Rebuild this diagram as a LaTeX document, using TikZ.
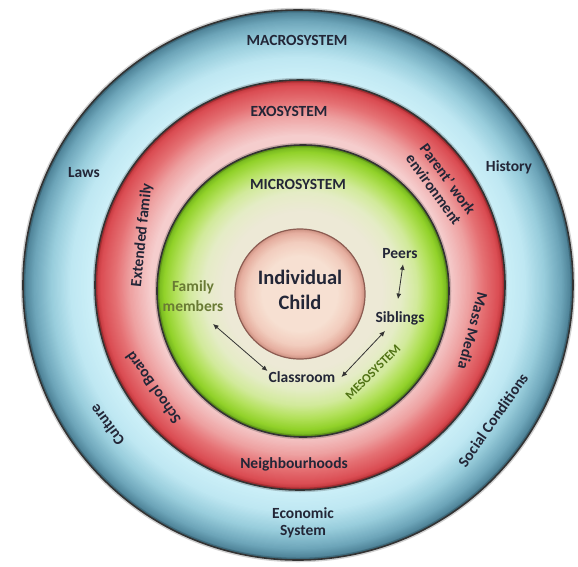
\documentclass[tikz,border=0pt]{standalone}
\usepackage{fontspec}
\setmainfont{Carlito}
\usetikzlibrary{calc,arrows.meta}

% text colours
\definecolor{ink}{RGB}{35,38,55}
\definecolor{olive}{RGB}{105,122,52}
\definecolor{mesogreen}{RGB}{80,115,20}

% macrosystem ring, inner to outer
\definecolor{bA}{RGB}{205,240,248}
\definecolor{bB}{RGB}{190,231,242}
\definecolor{bC}{RGB}{152,205,220}
\definecolor{bD}{RGB}{110,166,186}
\definecolor{bE}{RGB}{72,124,145}

% exosystem ring
\definecolor{rA}{RGB}{245,205,205}
\definecolor{rB}{RGB}{238,162,162}
\definecolor{rC}{RGB}{230,115,118}
\definecolor{rD}{RGB}{219,78,84}
\definecolor{rE}{RGB}{190,50,55}

% microsystem ring
\definecolor{gA}{RGB}{237,233,214}
\definecolor{gB}{RGB}{229,236,198}
\definecolor{gC}{RGB}{210,234,155}
\definecolor{gD}{RGB}{178,225,90}
\definecolor{gE}{RGB}{146,210,42}
\definecolor{gF}{RGB}{110,175,28}

% the child
\definecolor{cA}{RGB}{247,224,210}
\definecolor{cB}{RGB}{242,205,190}
\definecolor{cC}{RGB}{230,175,160}
\definecolor{cD}{RGB}{205,145,130}
\definecolor{childedge}{RGB}{140,92,82}

\newcommand\lblsize{\fontsize{15.5}{18}\selectfont}

% concentric band: #1 centre, #2 outer radius, #3 inner radius,
% #4 outer colour, #5 inner colour
\newcommand\gradband[5]{%
  \foreach \gStep in {0,...,16}{%
    \pgfmathsetmacro\gRad{#2-(#2-#3)*\gStep/16}%
    \pgfmathtruncatemacro\gPct{100*\gStep/16}%
    \fill[#5!\gPct!#4] #1 circle[radius=\gRad];
  }}

\begin{document}
\begin{tikzpicture}[x=1pt,y=-1pt,
  ringedge/.style={draw=black!80, line width=1.6pt},
  ringhalo/.style={draw=black, line width=4.5pt, opacity=0.18},
  lbl/.style={font=\bfseries\lblsize, text=ink, align=center, inner sep=1pt},
  caplbl/.style={lbl},
  link/.style={{Latex[length=5.5pt,width=5pt]}-{Latex[length=5.5pt,width=5pt]},
    draw=black!80, line width=0.8pt}]

\fill[white] (0,0) rectangle (578,566);
\useasboundingbox (0,0) rectangle (578,566);

% macrosystem ring
\gradband{(298,285)}{275}{264}{bE}{bD}
\gradband{(298,285)}{264}{247}{bD}{bC}
\gradband{(298,285)}{247}{228}{bC}{bB}
\gradband{(298,285)}{228}{206}{bB}{bA}
\draw[ringhalo] (298,285) circle[radius=275];
\draw[ringedge] (298,285) circle[radius=275];

% exosystem ring
\gradband{(300,285)}{205}{199}{rE}{rD}
\gradband{(300,285)}{199}{184}{rD}{rC}
\gradband{(300,285)}{184}{170}{rC}{rB}
\gradband{(300,285)}{170}{150}{rB}{rA}
\draw[ringhalo] (300,285) circle[radius=205];
\draw[ringedge] (300,285) circle[radius=205];

% microsystem ring
\gradband{(303,291)}{146}{139}{gF}{gE}
\gradband{(303,291)}{139}{128}{gE}{gD}
\gradband{(303,291)}{128}{115}{gD}{gC}
\gradband{(303,291)}{115}{99}{gC}{gB}
\gradband{(303,291)}{99}{80}{gB}{gA}
\draw[ringhalo] (303,291) circle[radius=146];
\draw[ringedge] (303,291) circle[radius=146];

% the child at the centre
\gradband{(300,294)}{65}{61}{cD}{cC}
\gradband{(300,294)}{61}{52}{cC}{cB}
\gradband{(300,294)}{52}{38}{cB}{cA}
\draw[draw=childedge, line width=1.2pt] (300,294) circle[radius=65];

% system titles
\node[caplbl] (macro) at (297,40)  {MACROSYSTEM};
\node[caplbl] (exo)   at (289,111) {EXOSYSTEM};
\node[caplbl] (micro) at (298,184) {MICROSYSTEM};

% macrosystem labels
\node[lbl] (laws)    at (84,173)  {Laws};
\node[lbl] (history) at (509,167) {History};
\node[lbl, rotate=127] (culture) at (107,425) {Culture};
\node[lbl, rotate=55]  (social)  at (493,420) {Social Conditions};
\node[lbl, font=\bfseries\fontsize{15.5}{17}\selectfont] (economic) at (303,523) {Economic\\System};

% exosystem labels
\node[lbl, rotate=84]   (extfam)  at (142,235) {Extended family};
\node[lbl, rotate=-54, font=\bfseries\fontsize{15.5}{17.5}\selectfont]
  (parent) at (441,184) {Parent’ work\\environment};
\node[lbl, rotate=-105] (media)   at (473,331) {Mass Media};
\node[lbl, rotate=125]  (school)  at (153,388) {School Board};
\node[lbl]              (neigh)   at (294,464) {Neighbourhoods};

% microsystem labels
\node[lbl, font=\bfseries\fontsize{20.5}{25}\selectfont] (child) at (300,290) {Individual\\Child};
\node[lbl, text=olive, font=\bfseries\fontsize{15.5}{20.5}\selectfont] (family) at (193,296) {Family\\members};
\node[lbl] (peers)     at (400,254) {Peers};
\node[lbl] (siblings)  at (400,318) {Siblings};
\node[lbl] (classroom) at (302,377) {Classroom};
\node[lbl, text=mesogreen, rotate=45, font=\bfseries\fontsize{12.5}{14}\selectfont]
  (meso) at (373,372) {MESOSYSTEM};

% mesosystem links
\draw[link] ($(peers.south)+(3,4)$) -- ($(siblings.north)+(-2,-11)$);
\draw[link] ($(family.south)+(20,11)$) -- ($(classroom.west)+(0,-6)$);
\draw[link] ($(classroom.east)+(5,0)$) -- ($(siblings.south)+(-15,5)$);
\end{tikzpicture}
\end{document}
